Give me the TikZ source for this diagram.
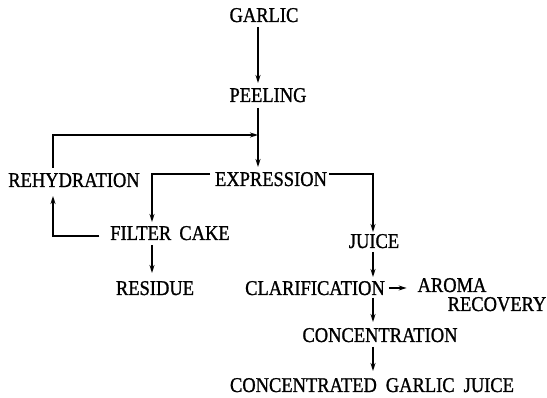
\documentclass[tikz,border=0pt]{standalone}
\usepackage{fontspec}
\setmainfont{Liberation Serif}[FakeBold=1.2]
\usetikzlibrary{arrows.meta}
\newcommand\lbltxt[1]{\scalebox{0.88}[1]{#1}}
\begin{document}
\begin{tikzpicture}[x=1pt,y=-1pt,
  lbl/.style={inner sep=0pt, outer sep=0pt, text height=14pt, text depth=0pt, font=\fontsize{21}{24}\selectfont},
  conn/.style={line width=1.6pt, -{Stealth[length=8pt,width=5pt]}},
]
\useasboundingbox (0,0) rectangle (547,398);
\node[lbl] (garlic)  at (264,15)  {\lbltxt{GARLIC}};
\node[lbl] (peeling) at (268,95)  {\lbltxt{PEELING}};
\node[lbl] (rehyd)   at (74,180)  {\lbltxt{REHYDRATION}};
\node[lbl] (expr)    at (271,179) {\lbltxt{EXPRESSION}};
\node[lbl] (filter)  at (170,233) {\lbltxt{FILTER\hspace{4pt} CAKE}};
\node[lbl] (juice)   at (374,241) {\lbltxt{JUICE}};
\node[lbl] (residue) at (155,288) {\lbltxt{RESIDUE}};
\node[lbl] (clar)    at (315,288) {\lbltxt{CLARIFICATION}};
\node[lbl] (aroma)   at (452,285) {\lbltxt{AROMA}};
\node[lbl] (recov)   at (497,304) {\lbltxt{RECOVERY}};
\node[lbl] (conc)    at (380,335) {\lbltxt{CONCENTRATION}};
\node[lbl] (cgj)     at (372,385) {\lbltxt{CONCENTRATED\hspace{5pt} GARLIC\hspace{5pt} JUICE}};
\coordinate (mx) at (258,0);
\coordinate (lx) at (53,0);
\coordinate (fx) at (152,0);
\coordinate (jx) at (373,0);
\coordinate (j)  at (258,135);
\draw[conn, shorten <=5pt, shorten >=5pt] (garlic.south -| mx) -- (peeling.north -| mx);
\draw[conn, shorten <=6pt, shorten >=5pt] (peeling.south -| mx) -- (expr.north -| mx);
\draw[conn, shorten <=5pt] (rehyd.north -| lx) |- (j);
\draw[conn, shorten <=5pt, shorten >=4pt] ([yshift=5pt]expr.west) -| (fx |- filter.north);
\draw[conn, shorten <=2pt, shorten >=2pt] ([yshift=5pt]expr.east) -| (jx |- juice.north);
\draw[conn, shorten <=11pt, shorten >=9pt] ([yshift=-3pt]filter.west) -| (lx |- rehyd.south);
\draw[conn, shorten <=5pt, shorten >=8pt] (filter.south -| fx) -- (residue.north -| fx);
\draw[conn, shorten <=4pt, shorten >=4pt] (juice.south -| jx) -- (clar.north -| jx);
\draw[conn, shorten <=4pt, shorten >=11pt] (clar.east) -- (clar.east -| aroma.west);
\draw[conn, shorten <=3pt, shorten >=6pt] (clar.south -| jx) -- (conc.north -| jx);
\draw[conn, shorten <=5pt, shorten >=7pt] (conc.south -| jx) -- (cgj.north -| jx);
\end{tikzpicture}
\end{document}
